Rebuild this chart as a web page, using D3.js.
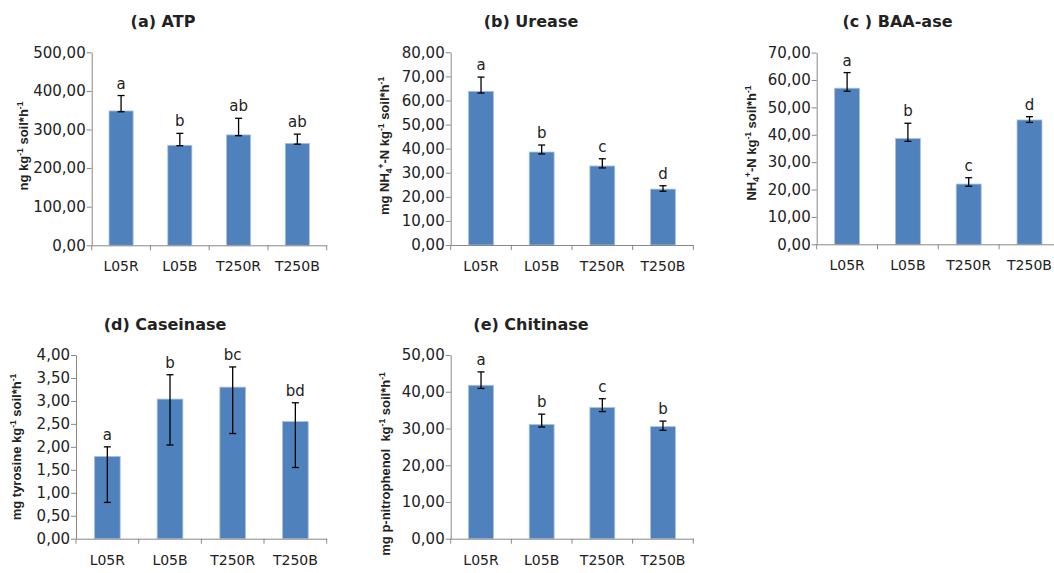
<!DOCTYPE html>
<html>
<head>
<meta charset="utf-8">
<script src="https://cdn.jsdelivr.net/npm/d3@7"></script>
<style>
  body { margin: 0; background: #fff; }
  svg { display: block; }
  text { fill: #222; }
  .ytitle { font-family: "Liberation Sans", Arial, sans-serif; font-weight: bold; font-size: 13px; white-space: pre; }
  .title { font-family: "DejaVu Sans", sans-serif; font-weight: bold; font-size: 16px; }
</style>
</head>
<body>
<div id="chart"></div>
<script>
'use strict';

// ---- data ----
var categories = ["L05R", "L05B", "T250R", "T250B"];

var atpMean  = [348, 259, 286, 264];
var atpHigh  = [388, 290, 329, 288];
var atpLow   = [346, 258, 284, 262];
var atpTicks = [0, 100, 200, 300, 400, 500];
var atpLetters = ["a", "b", "ab", "ab"];

var ureaseMean  = [63.8, 38.6, 32.8, 23.2];
var ureaseHigh  = [69.7, 41.5, 35.8, 24.6];
var ureaseLow   = [63.1, 37.8, 32.0, 22.3];
var ureaseTicks = [0, 10, 20, 30, 40, 50, 60, 70, 80];
var ureaseLetters = ["a", "b", "c", "d"];

var baaMean  = [57.0, 38.6, 22.0, 45.4];
var baaHigh  = [62.7, 44.2, 24.3, 46.6];
var baaLow   = [55.9, 37.6, 21.2, 44.5];
var baaTicks = [0, 10, 20, 30, 40, 50, 60, 70];
var baaLetters = ["a", "b", "c", "d"];

var caseinMean  = [1.79, 3.04, 3.30, 2.55];
var caseinHigh  = [2.00, 3.57, 3.74, 2.96];
var caseinLow   = [0.79, 2.04, 2.29, 1.55];
var caseinTicks = [0, 0.5, 1, 1.5, 2, 2.5, 3, 3.5, 4];
var caseinLetters = ["a", "b", "bc", "bd"];

var chitMean  = [41.75, 31.1, 35.7, 30.5];
var chitHigh  = [45.4, 33.9, 38.1, 32.0];
var chitLow   = [40.9, 30.4, 34.6, 29.5];
var chitTicks = [0, 10, 20, 30, 40, 50];
var chitLetters = ["a", "b", "c", "b"];

// ---- layout ----
var svg = d3.select("#chart").append("svg")
    .attr("width", 1054)
    .attr("height", 573);

var fmt = function(v) { return d3.format(".2f")(v).replace(".", ","); };

function PlotBarPanel(config) {
    var mean = config.mean, hi = config.high, lo = config.low;
    var ticks = config.ticks;

    var x = d3.scaleBand()
        .domain(categories)
        .range([config.left, config.right])
        .paddingInner(0.59)
        .paddingOuter(0.295);

    var y = d3.scaleLinear()
        .domain([0, ticks[ticks.length - 1]])
        .range([config.bottom, config.top]);

    var g = svg.append("g");

    // bars
    g.selectAll(".bar")
        .data(mean)
        .enter().append("rect")
        .attr("x", function(d, i) { return x(categories[i]); })
        .attr("y", function(d) { return y(d); })
        .attr("width", x.bandwidth())
        .attr("height", function(d) { return config.bottom - y(d); })
        .style("fill", "#4f81bd")
        .style("stroke", "#a9c1df")
        .style("stroke-width", 0.8);

    // error bars
    var cx = function(i) { return x(categories[i]) + x.bandwidth() / 2; };
    var eg = g.selectAll(".err")
        .data(mean)
        .enter().append("g")
        .style("stroke", "#000")
        .style("stroke-width", 1.3);
    eg.append("line")
        .attr("x1", function(d, i) { return cx(i); })
        .attr("x2", function(d, i) { return cx(i); })
        .attr("y1", function(d, i) { return y(hi[i]); })
        .attr("y2", function(d, i) { return y(lo[i]); });
    eg.append("line")
        .attr("x1", function(d, i) { return cx(i) - 3.5; })
        .attr("x2", function(d, i) { return cx(i) + 3.5; })
        .attr("y1", function(d, i) { return y(hi[i]); })
        .attr("y2", function(d, i) { return y(hi[i]); });
    eg.append("line")
        .attr("x1", function(d, i) { return cx(i) - 3.5; })
        .attr("x2", function(d, i) { return cx(i) + 3.5; })
        .attr("y1", function(d, i) { return y(lo[i]); })
        .attr("y2", function(d, i) { return y(lo[i]); });

    // significance letters
    g.selectAll(".letter")
        .data(config.letters)
        .enter().append("text")
        .attr("x", function(d, i) { return cx(i); })
        .attr("y", function(d, i) { return y(hi[i]) - 7; })
        .style("text-anchor", "middle")
        .style("font-family", "'DejaVu Sans', sans-serif")
        .style("font-size", "15px")
        .text(function(d) { return d; });

    // y axis
    var yAxis = g.append("g")
        .attr("transform", "translate(" + config.left + ",0)")
        .call(d3.axisLeft(y).tickValues(ticks).tickFormat(fmt).tickSize(5).tickSizeOuter(0).tickPadding(1));
    yAxis.selectAll("text")
        .style("font-family", "'DejaVu Sans', sans-serif")
        .style("font-size", "15px")
        .style("fill", "#222");

    // x axis
    var xAxis = g.append("g")
        .attr("transform", "translate(0," + config.bottom + ")")
        .call(d3.axisBottom(x).tickSize(0).tickPadding(16));
    xAxis.selectAll("text")
        .style("font-family", "'DejaVu Sans', sans-serif")
        .style("font-size", "14px")
        .style("fill", "#222");
    xAxis.selectAll(".tick line").remove();
    xAxis.selectAll(".bound")
        .data(d3.range(categories.length + 1))
        .enter().append("line")
        .attr("x1", function(i) { return config.left + i * x.step(); })
        .attr("x2", function(i) { return config.left + i * x.step(); })
        .attr("y1", 0)
        .attr("y2", 5)
        .style("stroke", "#888");

    g.selectAll(".domain, .tick line").style("stroke", "#888");

    // panel title
    g.append("text")
        .attr("class", "title")
        .attr("x", config.titleX)
        .attr("y", config.titleY)
        .style("text-anchor", "middle")
        .text(config.title);

    // rotated y title with super/subscripts
    var yt = g.append("text")
        .attr("class", "ytitle")
        .attr("transform", "translate(" + config.ylabX + "," + config.ylabY + ") rotate(-90)")
        .style("text-anchor", "middle");
    var shift = 0;
    config.ylabel.forEach(function(part) {
        var target = part[1] === "sup" ? -5 : (part[1] === "sub" ? 3 : 0);
        yt.append("tspan")
            .attr("dy", target - shift)
            .style("font-size", part[1] ? "8.5px" : "13px")
            .text(part[0]);
        shift = target;
    });
}

PlotBarPanel({
    mean: atpMean, high: atpHigh, low: atpLow, ticks: atpTicks, letters: atpLetters,
    left: 91.7, right: 326.7, top: 52.3, bottom: 245.3,
    title: "(a) ATP", titleX: 163, titleY: 27,
    ylabel: [["ng kg"], ["-1", "sup"], [" soil*h"], ["-1", "sup"]],
    ylabX: 28, ylabY: 146
});

PlotBarPanel({
    mean: ureaseMean, high: ureaseHigh, low: ureaseLow, ticks: ureaseTicks, letters: ureaseLetters,
    left: 450.7, right: 693.3, top: 52.3, bottom: 245,
    title: "(b) Urease", titleX: 531, titleY: 27,
    ylabel: [["mg NH"], ["4", "sub"], ["+", "sup"], ["-N kg"], ["-1", "sup"], [" soil*h"], ["-1", "sup"]],
    ylabX: 389, ylabY: 146
});

PlotBarPanel({
    mean: baaMean, high: baaHigh, low: baaLow, ticks: baaTicks, letters: baaLetters,
    left: 816.7, right: 1059.9, top: 52.6, bottom: 244.3,
    title: "(c ) BAA-ase", titleX: 897.5, titleY: 27,
    ylabel: [["NH"], ["4", "sub"], ["+", "sup"], ["-N kg"], ["-1", "sup"], [" soil*h"], ["-1", "sup"]],
    ylabX: 756, ylabY: 143
});

PlotBarPanel({
    mean: caseinMean, high: caseinHigh, low: caseinLow, ticks: caseinTicks, letters: caseinLetters,
    left: 76, right: 326.7, top: 355, bottom: 538.7,
    title: "(d) Caseinase", titleX: 165, titleY: 330,
    ylabel: [["mg tyrosine kg"], ["-1", "sup"], [" soil*h"], ["-1", "sup"]],
    ylabX: 21, ylabY: 447
});

PlotBarPanel({
    mean: chitMean, high: chitHigh, low: chitLow, ticks: chitTicks, letters: chitLetters,
    left: 450.7, right: 693.3, top: 355, bottom: 538.7,
    title: "(e) Chitinase", titleX: 531, titleY: 330,
    ylabel: [["mg p-nitrophenol  kg"], ["-1", "sup"], [" soil*h"], ["-1", "sup"]],
    ylabX: 390, ylabY: 464
});
</script>
</body>
</html>
